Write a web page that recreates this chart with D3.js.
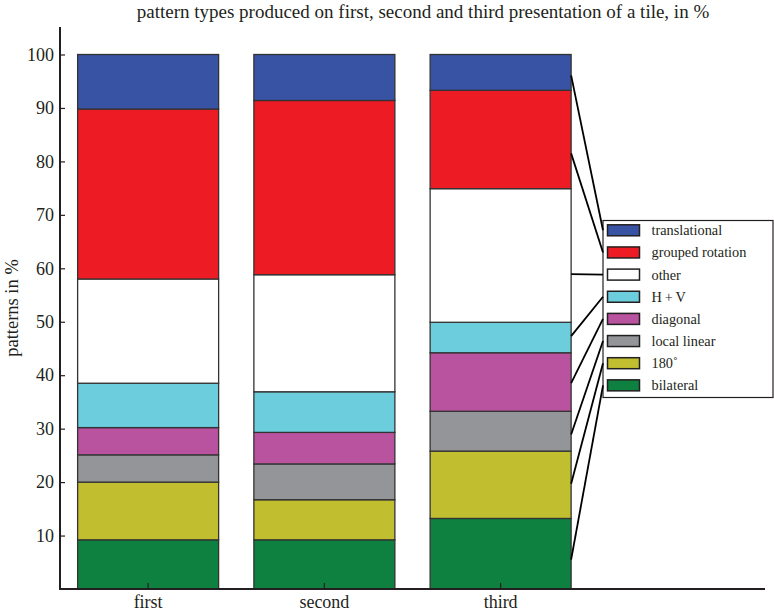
<!DOCTYPE html>
<html>
<head>
<meta charset="utf-8">
<script src="https://cdn.jsdelivr.net/npm/d3@7"></script>
<style>
  html, body { margin: 0; padding: 0; background: #fff; }
  svg { display: block; }
  text { font-family: "Liberation Serif", "Times New Roman", serif; fill: #231f20; }
</style>
</head>
<body>
<svg id="chart" width="774" height="613"></svg>
<script>
// ---- data ----
const categories = ["first", "second", "third"];
const seriesNames = ["bilateral", "180˚", "local linear", "diagonal", "H\u2009+\u2009V", "other", "grouped rotation", "translational"];
const seriesColors = ["#0e8140", "#c1bf30", "#939598", "#b9529f", "#6ccddd", "#ffffff", "#ed1c24", "#3953a4"];
// percentage of each pattern type, per presentation (bottom to top order)
const bilateral       = [9.2, 9.2, 13.2];
const rot180          = [10.8, 7.5, 12.6];
const localLinear     = [5.1, 6.7, 7.45];
const diagonal        = [5.1, 5.9, 10.95];
const hv              = [8.3, 7.6, 5.7];
const other           = [19.5, 21.9, 25.0];
const groupedRotation = [31.8, 32.6, 18.4];
const translational   = [10.2, 8.6, 6.7];
// where the legend leader lines touch the third bar (in %), bottom to top
const leaderValues = [5.5, 19.7, 28.9, 38.5, 47.3, 58.9, 81.5, 96.1];
const yTicks = [10, 20, 30, 40, 50, 60, 70, 80, 90, 100];
const titleText = "pattern types produced on first, second and third presentation of a tile, in %";
const yLabel = "patterns in %";

const seriesValues = [bilateral, rot180, localLinear, diagonal, hv, other, groupedRotation, translational];

// ---- layout ----
const FONT = "'Liberation Serif', 'Times New Roman', serif";
const svg = d3.select("#chart");
const x0 = 60, x1 = 765, yBottom = 589, yTop100 = 54.5, axisTop = 27;

const x = d3.scaleBand().domain(categories)
  .range([x0, x0 + 3 * 176.25]).paddingInner(0.2).paddingOuter(0.1);
const y = d3.scaleLinear().domain([0, 100]).range([yBottom, yTop100]);

// stacked data
const table = categories.map((c, i) => {
  const row = { cat: c };
  seriesNames.forEach((s, j) => row[s] = seriesValues[j][i]);
  return row;
});
const stack = d3.stack().keys(seriesNames)(table);

// title
svg.append("text").attr("x", 423).attr("y", 18).attr("text-anchor", "middle")
  .attr("font-family", FONT).style("font-size", "19px").text(titleText);

// bars
const layers = svg.append("g").selectAll("g").data(stack).join("g")
  .attr("fill", (d, i) => seriesColors[i]);
layers.selectAll("rect").data(d => d).join("rect")
  .attr("x", d => x(d.data.cat))
  .attr("width", x.bandwidth())
  .attr("y", d => y(d[1]))
  .attr("height", d => y(d[0]) - y(d[1]))
  .attr("stroke", "#333")
  .attr("stroke-width", 1.3);

// y axis
const yAxis = svg.append("g").attr("transform", `translate(${x0},0)`);
yAxis.append("line").attr("x1", 0).attr("x2", 0).attr("y1", axisTop).attr("y2", yBottom)
  .attr("stroke", "#231f20").attr("stroke-width", 2);
yAxis.append("g")
  .call(d3.axisLeft(y).tickValues(yTicks).tickSize(-5).tickPadding(10).tickFormat(d3.format("d")))
  .attr("font-family", FONT)
  .call(gg => {
    gg.select(".domain").remove();
    gg.selectAll(".tick line").attr("stroke", "#231f20").attr("stroke-width", 1.2);
    gg.selectAll(".tick text").style("font-size", "18px").attr("fill", "#231f20")
      .attr("font-family", FONT).attr("x", -6);
  });

// x axis
const xAxisG = svg.append("g").attr("transform", `translate(0,${yBottom})`);
xAxisG.append("line").attr("x1", x0 - 1).attr("x2", x1).attr("y1", 0).attr("y2", 0)
  .attr("stroke", "#231f20").attr("stroke-width", 2);
xAxisG.append("g").call(d3.axisBottom(x).tickSize(-6).tickPadding(6))
  .attr("font-family", FONT)
  .call(g => {
    g.select(".domain").remove();
    g.selectAll(".tick line").attr("stroke", "#231f20").attr("stroke-width", 1.2);
    g.selectAll(".tick text").style("font-size", "18px").attr("fill", "#231f20")
      .attr("font-family", FONT);
  });

// y label
svg.append("text").attr("transform", `translate(18,308) rotate(-90)`)
  .attr("text-anchor", "middle").attr("font-family", FONT).style("font-size", "18.5px").text(yLabel);

// legend
const legX = 603, legY = 220.5, legW = 170, legH = 177, rowH = 22.15, firstRow = 230.3;
const legendOrder = d3.range(seriesNames.length).reverse(); // top: translational
svg.append("rect").attr("x", legX).attr("y", legY).attr("width", legW).attr("height", legH)
  .attr("fill", "#fff").attr("stroke", "#231f20").attr("stroke-width", 1.2);
const rowY = k => firstRow + k * rowH;
const leg = svg.append("g").selectAll("g").data(legendOrder).join("g")
  .attr("transform", (d, k) => `translate(0,${rowY(k)})`);
leg.append("rect").attr("x", 607.5).attr("y", -5.5).attr("width", 32).attr("height", 11)
  .attr("fill", d => seriesColors[d]).attr("stroke", "#231f20").attr("stroke-width", 1.5);
leg.append("text").attr("x", 651.5).attr("y", 5).attr("font-family", FONT).style("font-size", "14.3px")
  .text(d => seriesNames[d]);

// leader lines from third bar to legend rows
const barRight = x("third") + x.bandwidth();
svg.append("g").selectAll("line").data(legendOrder).join("line")
  .attr("x1", barRight).attr("y1", d => y(leaderValues[d]))
  .attr("x2", legX).attr("y2", (d, k) => rowY(k))
  .attr("stroke", "#000").attr("stroke-width", 1.8);
</script>
</body>
</html>
